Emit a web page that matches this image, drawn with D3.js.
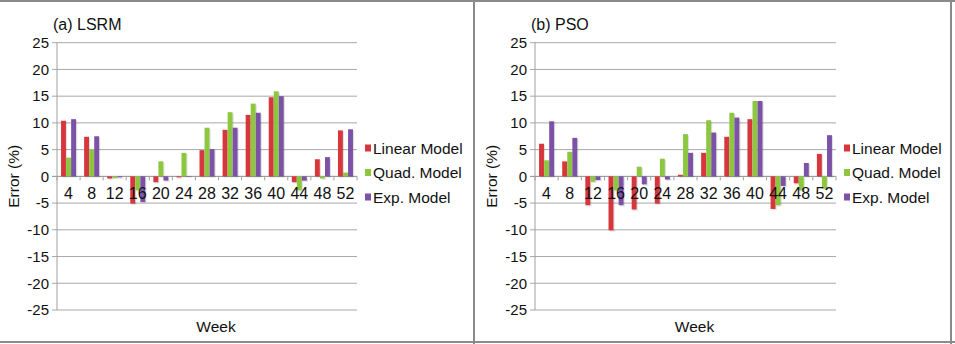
<!DOCTYPE html>
<html>
<head>
<meta charset="utf-8">
<script src="https://cdn.jsdelivr.net/npm/d3@7"></script>
<style>
  body { margin: 0; background: #fff; }
  text { font-family: Arial, "Liberation Sans", sans-serif; fill: #111; }
</style>
</head>
<body>
<svg id="chart" width="955" height="344"></svg>
<script>
// weeks on the x axis
const weeks = [4, 8, 12, 16, 20, 24, 28, 32, 36, 40, 44, 48, 52];
const seriesNames = ['Linear Model', 'Quad. Model', 'Exp. Model'];
const colors = ['#d7373c', '#8dc63f', '#7b52a5'];
const yTicks = [25, 20, 15, 10, 5, 0, -5, -10, -15, -20, -25];

// (a) LSRM errors
const lsrmLinear = [10.4, 7.4, -0.4, -5.1, -1.1, -0.2, 4.9, 8.7, 11.5, 14.8, -1.1, 3.2, 8.6];
const lsrmQuad   = [3.5, 5.0, -0.3, -2.6, 2.8, 4.4, 9.1, 12.0, 13.6, 15.9, -2.6, -0.4, 0.7];
const lsrmExp    = [10.7, 7.5, -0.2, -4.8, -0.8, -0.1, 5.1, 9.1, 11.9, 15.0, -0.8, 3.6, 8.8];

// (b) PSO errors
const psoLinear = [6.1, 2.8, -5.4, -10.1, -6.2, -5.1, 0.3, 4.4, 7.4, 10.7, -6.1, -1.3, 4.2];
const psoQuad   = [3.0, 4.6, -1.0, -2.6, 1.8, 3.3, 7.9, 10.5, 11.9, 14.1, -5.4, -2.6, -2.3];
const psoExp    = [10.3, 7.2, -0.7, -5.4, -1.5, -0.6, 4.4, 8.2, 11.0, 14.1, -1.8, 2.5, 7.7];

const svg = d3.select('#chart');

// frame
svg.append('rect').attr('x', 0).attr('y', 0).attr('width', 955).attr('height', 2).attr('fill', '#8a8a8a');
svg.append('rect').attr('x', 0).attr('y', 341).attr('width', 955).attr('height', 2).attr('fill', '#8a8a8a');
svg.append('rect').attr('x', 473).attr('y', 0).attr('width', 2).attr('height', 344).attr('fill', '#8a8a8a');
svg.append('rect').attr('x', 950).attr('y', 0).attr('width', 2).attr('height', 344).attr('fill', '#8a8a8a');

const panels = [
  {title: '(a) LSRM', left: 57, right: 357, data: [lsrmLinear, lsrmQuad, lsrmExp]},
  {title: '(b) PSO', left: 535, right: 836, data: [psoLinear, psoQuad, psoExp]}
];

panels.forEach(p => {
  const g = svg.append('g');

  const y = d3.scaleLinear().domain([-25, 25]).range([310, 42.7]);
  const x = d3.scaleBand().domain(weeks).range([p.left, p.right]).paddingInner(0).paddingOuter(0);
  const inner = d3.scaleBand().domain(d3.range(3)).range([0, x.bandwidth()]).paddingInner(0.03).paddingOuter(0.8);

  // gridlines
  g.selectAll('line.grid')
    .data(yTicks)
    .enter().append('line')
      .attr('x1', p.left - 5).attr('x2', p.right)
      .attr('y1', d => y(d)).attr('y2', d => y(d))
      .attr('stroke', d => d === 0 ? '#8c8c8c' : '#a8a8a8')
      .attr('stroke-width', 1);

  // y axis line
  g.append('line')
    .attr('x1', p.left).attr('x2', p.left)
    .attr('y1', y(25)).attr('y2', y(-25))
    .attr('stroke', '#a0a0a0');

  // y tick labels
  g.selectAll('text.ytick')
    .data(yTicks)
    .enter().append('text')
      .attr('x', p.left - 8)
      .attr('y', d => y(d))
      .attr('dy', '0.35em')
      .attr('text-anchor', 'end')
      .attr('font-size', 15)
      .text(d => d);

  // x ticks between categories on the zero line
  g.selectAll('line.xtick')
    .data(d3.range(weeks.length + 1))
    .enter().append('line')
      .attr('x1', i => p.left + i * x.step()).attr('x2', i => p.left + i * x.step())
      .attr('y1', y(0)).attr('y2', y(0) + 4)
      .attr('stroke', '#a0a0a0');

  // bars
  p.data.forEach((vals, s) => {
    // faint shadow
    g.selectAll(null)
      .data(vals)
      .enter().append('rect')
        .attr('x', (d, i) => x(weeks[i]) + inner(s) + 1.2)
        .attr('y', d => Math.min(y(d), y(0)) + 1.2)
        .attr('width', inner.bandwidth())
        .attr('height', d => Math.abs(y(d) - y(0)))
        .attr('fill', '#000')
        .attr('opacity', 0.12);
    g.selectAll(null)
      .data(vals)
      .enter().append('rect')
        .attr('x', (d, i) => x(weeks[i]) + inner(s))
        .attr('y', d => Math.min(y(d), y(0)))
        .attr('width', inner.bandwidth())
        .attr('height', d => Math.abs(y(d) - y(0)))
        .attr('fill', colors[s]);
  });

  // category labels
  g.selectAll('text.xlab')
    .data(weeks)
    .enter().append('text')
      .attr('x', d => x(d) + x.bandwidth() / 2)
      .attr('y', 199)
      .attr('text-anchor', 'middle')
      .attr('font-size', 16)
      .text(d => d);

  // title
  g.append('text')
    .attr('x', p.left - 4).attr('y', 29.5)
    .attr('font-size', 16)
    .text(p.title);

  // axis titles
  g.append('text')
    .attr('transform', `translate(${p.left - 38},${y(0)}) rotate(-90)`)
    .attr('text-anchor', 'middle')
    .attr('font-size', 15.5)
    .text('Error (%)');
  g.append('text')
    .attr('x', (p.left + p.right) / 2 + 9).attr('y', 331.5)
    .attr('text-anchor', 'middle')
    .attr('font-size', 15.5)
    .text('Week');

  // legend
  const leg = g.selectAll('g.leg')
    .data(seriesNames)
    .enter().append('g')
      .attr('transform', (d, i) => `translate(${p.right + 8},${148 + i * 24.5})`);
  leg.append('rect')
    .attr('x', 0).attr('y', -3.5).attr('width', 6).attr('height', 7)
    .attr('fill', (d, i) => colors[i]);
  leg.append('text')
    .attr('x', 8).attr('dy', '0.36em')
    .attr('font-size', 15.5)
    .text(d => d);
});
</script>
</body>
</html>
